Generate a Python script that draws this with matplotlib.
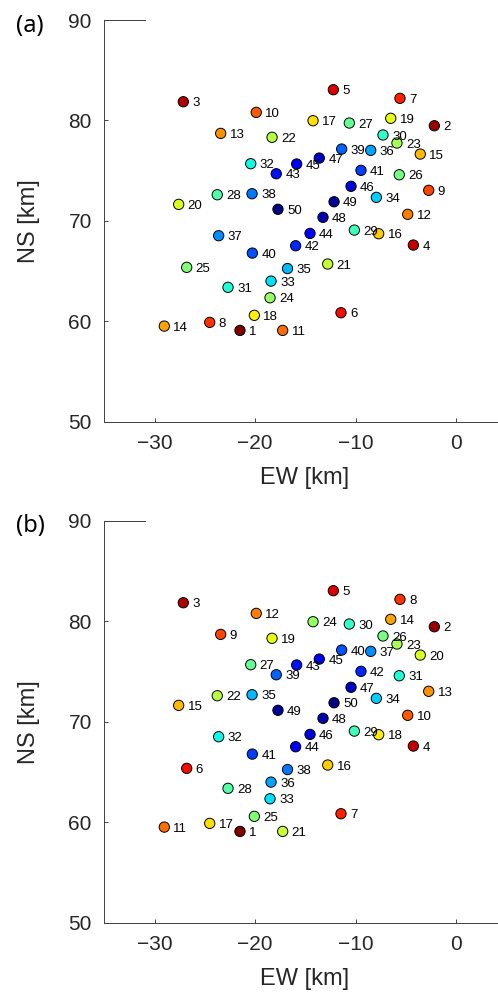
import matplotlib
matplotlib.use("Agg")
import matplotlib.pyplot as plt
import numpy as np

# Station coordinates (km), ordered by panel (a) label 1..50
labels_a = list(range(1, 51))
x_km = [-21.50, -2.16, -27.14, -4.25, -12.21, -11.45, -5.58, -24.51, -2.72, -19.88,
        -17.25, -4.81, -23.42, -29.03, -3.56, -7.70, -14.23, -20.07, -6.50, -27.60,
        -12.77, -18.31, -5.88, -18.51, -26.80, -5.65, -10.62, -23.76, -10.12, -7.27,
        -22.69, -20.43, -18.41, -7.93, -16.77, -8.49, -23.62, -20.30, -11.38, -20.27,
        -9.46, -15.96, -17.89, -14.53, -15.86, -10.45, -13.61, -13.24, -12.14, -17.72]
y_km = [59.09, 79.47, 81.86, 67.59, 83.06, 60.85, 82.20, 59.89, 73.04, 80.80,
        59.09, 70.65, 78.71, 59.52, 76.65, 68.72, 79.97, 60.59, 80.21, 71.64,
        65.70, 78.32, 77.75, 62.34, 65.37, 74.59, 79.74, 72.60, 69.08, 78.55,
        63.38, 75.69, 64.00, 72.34, 65.25, 77.02, 68.52, 72.70, 77.15, 66.79,
        75.03, 67.52, 74.69, 68.75, 75.66, 73.44, 76.25, 70.35, 71.90, 71.15]
# Panel (b) labels for the same stations
labels_b = [1, 2, 3, 4, 5, 7, 8, 17, 13, 12,
            21, 10, 9, 11, 20, 18, 24, 25, 14, 15,
            16, 19, 23, 33, 6, 31, 30, 22, 29, 26,
            28, 27, 36, 34, 38, 37, 32, 35, 40, 41,
            42, 44, 39, 46, 43, 47, 45, 48, 50, 49]

panel_tags = ["(a)", "(b)"]
xticks = [-30, -20, -10, 0]
yticks = [50, 60, 70, 80, 90]

W, H = 498, 998
fig = plt.figure(figsize=(W / 100, H / 100), dpi=100)

left_px = 104.3
px_per_km = 10.05
ax_w = 40 * px_per_km / W
ax_h = 401.7 / H
bottoms_px = [421.7, 922.7]
tick_col = '#262626'
cmap = plt.get_cmap('jet_r')

for i, (labels, tag) in enumerate(zip([labels_a, labels_b], panel_tags)):
    bottom = (H - bottoms_px[i]) / H
    ax = fig.add_axes([left_px / W, bottom, ax_w, ax_h])
    ax.set_xlim(-35, 5)
    ax.set_ylim(50, 90)
    ax.scatter(x_km, y_km, c=labels, cmap=cmap, vmin=1, vmax=50, s=55,
               edgecolors='black', linewidths=0.7, zorder=3)
    for xx, yy, lb in zip(x_km, y_km, labels):
        ax.annotate(str(lb), (xx, yy), xytext=(6.5, -1.2), textcoords='offset points',
                    ha='left', va='center', fontsize=9.5, family='Liberation Sans',
                    color='black', zorder=4)
    ax.set_xticks(xticks)
    ax.set_yticks(yticks)
    ax.tick_params(direction='in', length=3, width=0.6, colors=tick_col, labelsize=15, pad=9)
    for lab in ax.get_xticklabels() + ax.get_yticklabels():
        lab.set_family('Liberation Sans')
        lab.set_color('#262626')
    for s in ['left', 'bottom', 'top']:
        ax.spines[s].set_color('#404040')
        ax.spines[s].set_linewidth(0.7)
    ax.spines['top'].set_bounds(-35, -31)
    ax.spines['right'].set_visible(False)
    top_px = bottoms_px[i] - 401.7
    # axis labels
    fig.text(305 / W, 1 - (bottoms_px[i] + 56.5) / H, "EW [km]", ha='center', va='center',
             fontsize=17, family='Liberation Sans', color='#262626')
    fig.text(29 / W, 1 - (bottoms_px[i] - 200.8) / H, "NS [km]", ha='center', va='center',
             rotation=90, fontsize=17, family='Liberation Sans', color='#262626')
    fig.text(30 / W, 1 - (top_px + 5.5) / H, tag, ha='center', va='center',
             fontsize=17, family='Noto Sans', color='black')

fig.savefig("out.png", dpi=100)
